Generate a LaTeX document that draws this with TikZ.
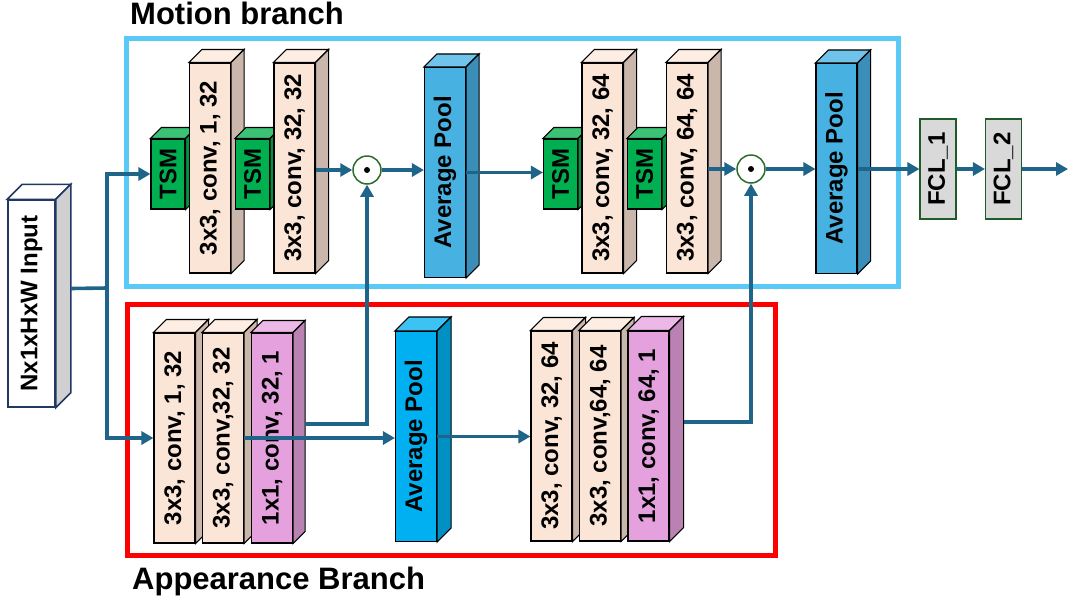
\documentclass[tikz,border=0pt]{standalone}
\usepackage{fontspec}
\setmainfont{Liberation Sans}
\usetikzlibrary{calc,arrows.meta}

\definecolor{convfront}{HTML}{FBE5D6}
\definecolor{convtop}{HTML}{FDEDE3}
\definecolor{convside}{HTML}{CBB6AC}
\definecolor{tsmfront}{HTML}{00B050}
\definecolor{tsmtop}{HTML}{3CC274}
\definecolor{tsmside}{HTML}{00923F}
\definecolor{poolfront}{HTML}{47B1E1}
\definecolor{pooltop}{HTML}{70C3EA}
\definecolor{poolside}{HTML}{3A8EB8}
\definecolor{appfront}{HTML}{00B0F0}
\definecolor{apptop}{HTML}{3DC3F3}
\definecolor{appside}{HTML}{0090C4}
\definecolor{pinkfront}{HTML}{E4A1DD}
\definecolor{pinktop}{HTML}{ECB8E7}
\definecolor{pinkside}{HTML}{B982B3}
\definecolor{inputedge}{HTML}{1F3864}
\definecolor{inputside}{HTML}{D0D0D0}
\definecolor{fclgrey}{HTML}{D9D9D9}
\definecolor{fcledge}{HTML}{1F5C2A}
\definecolor{dotgreen}{HTML}{2E6B2E}
\definecolor{linkblue}{HTML}{1F6489}
\definecolor{motionblue}{HTML}{5BC9F5}

% block with a front face, a top face and a right side face
% #1 name, #2 centre, #3 front style, #4 depth, #5 top colour, #6 side colour, #7 text
\newcommand{\cuboid}[7]{%
  \node[#3] (#1) at (#2) {};
  \draw[faceline, fill=#5] (#1.north west) -- ++(#4,-#4) -- ($(#1.north east)+(#4,-#4)$) -- (#1.north east) -- cycle;
  \draw[faceline, fill=#6] (#1.north east) -- ($(#1.north east)+(#4,-#4)$) -- ($(#1.south east)+(#4,-#4)$) -- (#1.south east) -- cycle;
  \node[lbl] (#1-t) at (#1) {#7};
}

\begin{document}
\begin{tikzpicture}[
    x=1pt, y=-1pt,
    faceline/.style={draw=black, line width=1.1pt},
    front/.style={faceline, inner sep=0pt, minimum width=41pt, minimum height=210pt},
    conv/.style={front, fill=convfront},
    pink/.style={front, fill=pinkfront},
    tsm/.style={front, fill=tsmfront, minimum width=34pt, minimum height=70pt},
    pool/.style={front, fill=poolfront},
    poolapp/.style={front, fill=appfront},
    fcl/.style={draw=fcledge, line width=1.1pt, fill=fclgrey, inner sep=0pt, minimum width=36pt, minimum height=100pt},
    odot/.style={circle, draw=dotgreen, line width=1.5pt, fill=white, inner sep=0pt, minimum size=28pt},
    lbl/.style={rotate=90, inner sep=0pt, font=\fontsize{24}{24}\selectfont\bfseries},
    title/.style={anchor=base west, inner sep=0pt, font=\fontsize{31}{31}\selectfont\bfseries},
    wire/.style={draw=linkblue, line width=3.6pt},
    link/.style={wire, -{Triangle[length=12pt,width=13pt]}}
  ]
    \useasboundingbox (0,0) rectangle (1068,603);

    % branch frames and titles
    \draw[draw=motionblue, line width=5pt] (126,38) rectangle (898,286);
    \draw[draw=red, line width=5pt] (127,304) rectangle (775,555);
    \node[title] (motion) at (130,24) {Motion branch};
    \node[title] (appear) at (132,589) {Appearance Branch};

    % input
    \begin{scope}[faceline/.append style={draw=inputedge, line width=1.5pt}]
      \cuboid{in}{31.5,303.5}{front, fill=white, minimum width=47pt, minimum height=207pt}{15}{white}{inputside}{Nx1xHxW Input}
    \end{scope}

    % motion branch
    \cuboid{tsm1}{168,174}{tsm}{11}{tsmtop}{tsmside}{TSM}
    \cuboid{conv1}{210,168}{conv}{13}{convtop}{convside}{3x3, conv, 1, 32}
    \cuboid{tsm2}{252.5,174}{tsm}{11}{tsmtop}{tsmside}{TSM}
    \cuboid{conv2}{294.5,168}{conv}{13}{convtop}{convside}{3x3, conv, 32, 32}
    \node[odot] (dot1) at (367,170) {};
    \cuboid{pool1}{445,172.5}{pool}{13}{pooltop}{poolside}{Average Pool}
    \cuboid{tsm3}{560.5,174}{tsm}{11}{tsmtop}{tsmside}{TSM}
    \cuboid{conv3}{602.5,168}{conv}{13}{convtop}{convside}{3x3, conv, 32, 64}
    \cuboid{tsm4}{644.5,174}{tsm}{11}{tsmtop}{tsmside}{TSM}
    \cuboid{conv4}{687,168}{conv}{13}{convtop}{convside}{3x3, conv, 64, 64}
    \node[odot] (dot2) at (751,169) {};
    \cuboid{pool2}{836.5,168.5}{pool}{13}{pooltop}{poolside}{Average Pool}
    \fill (dot1) circle (3pt);
    \fill (dot2) circle (3pt);

    \node[fcl] (fcl1) at (938,169) {};
    \node[lbl] (fcl1-t) at (fcl1) {FCL\_1};
    \node[fcl] (fcl2) at (1003.5,169) {};
    \node[lbl] (fcl2-t) at (fcl2) {FCL\_2};

    % appearance branch
    \cuboid{app1}{174.5,438}{conv}{13}{convtop}{convside}{3x3, conv, 1, 32}
    \cuboid{app2}{223,438}{conv}{13}{convtop}{convside}{3x3, conv,32, 32}
    \cuboid{app3}{272,438}{pink}{12}{pinktop}{pinkside}{1x1, conv, 32, 1}
    \cuboid{app4}{416,436.5}{poolapp}{14}{apptop}{appside}{Average Pool}
    \cuboid{app5}{551.5,436}{conv}{13}{convtop}{convside}{3x3, conv, 32, 64}
    \cuboid{app6}{600,436}{conv}{13}{convtop}{convside}{3x3, conv,64, 64}
    \cuboid{app7}{648.5,436}{pink}{14}{pinktop}{pinkside}{1x1, conv, 64, 1}

    % connectors
    \coordinate (split) at (107,288);
    \coordinate (out) at (1068,169);
    \draw[wire] ($(in.east)+(15,-15)$) -- (split);
    \draw[link] (split) |- (tsm1.west);
    \draw[link] (split) |- (app1.west);

    \draw[link] (conv2.east |- dot1) -- (dot1.west);
    \draw[link] (dot1.east) -- (dot1.east -| pool1.west);
    \draw[link] (pool1.east) -- (pool1.east -| tsm3.west);
    \draw[link] (conv4.east |- dot2) -- (dot2.west);
    \draw[link] (dot2.east) -- (dot2.east -| pool2.west);
    \draw[link] (pool2.east |- fcl1) -- (fcl1.west);
    \draw[link] (fcl1.east) -- (fcl2.west);
    \draw[link] (fcl2.east) -- (out);

    \draw[link] (app2.east) -- (app2.east -| app4.west);
    \draw[link] ($(app3.east)+(12,-14)$) -| (dot1.south);
    \draw[link] (app4.east) -- (app4.east -| app5.west);
    \draw[link] ($(app7.east)+(14,-14)$) -| (dot2.south);
  \end{tikzpicture}
\end{document}
